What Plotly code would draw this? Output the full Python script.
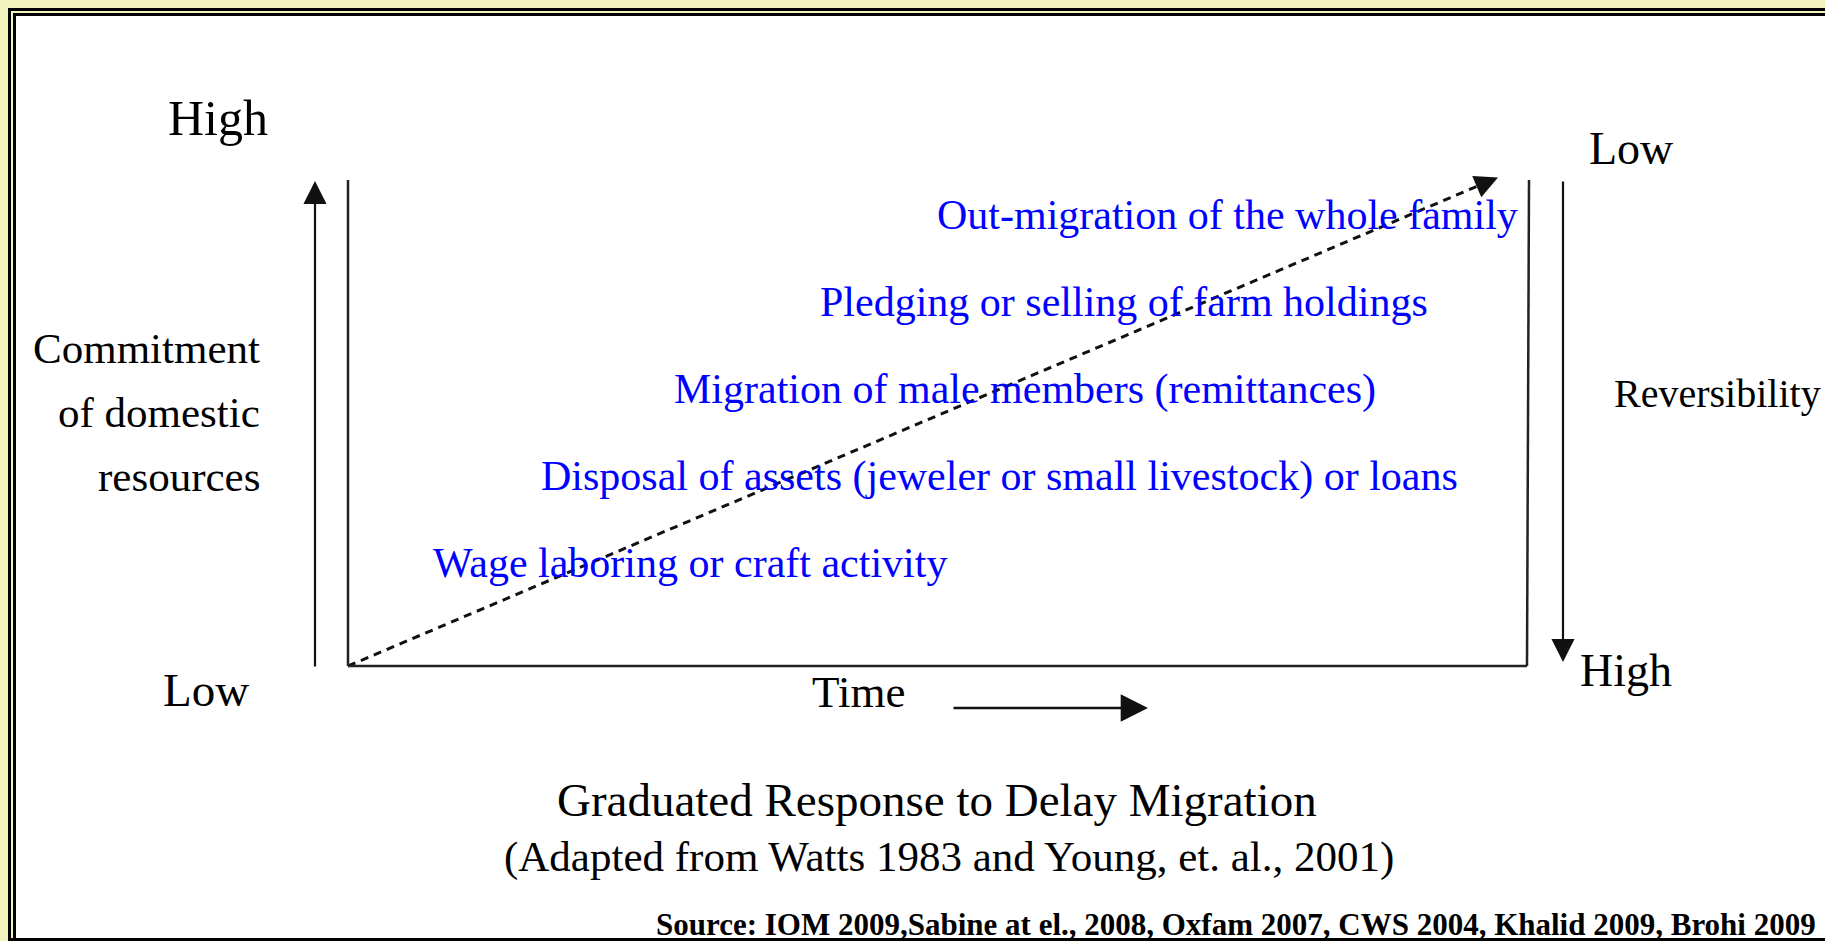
import plotly.graph_objects as go

# ---------------- data ----------------
stages = [
    "Wage laboring or craft activity",
    "Disposal of assets (jeweler or small livestock) or loans",
    "Migration of male members (remittances)",
    "Pledging or selling of farm holdings",
    "Out-migration of the whole family",
]
stage_level = [1, 2, 3, 4, 5]
left_axis_top = "High"
left_axis_bottom = "Low"
left_axis_title = ["Commitment", "of domestic", "resources"]
right_axis_top = "Low"
right_axis_bottom = "High"
right_axis_title = "Reversibility"
x_axis_title = "Time"
title = "Graduated Response to Delay Migration"
subtitle = "(Adapted from Watts 1983 and Young, et. al., 2001)"
source = "Source: IOM 2009,Sabine at el., 2008, Oxfam 2007, CWS 2004, Khalid 2009, Brohi 2009"

# ---------------- layout geometry (pixel space) ----------------
W, H = 1825, 941
BOX_L, BOX_R, BOX_T, BOX_B = 348, 1529, 180, 666
stage_x_left = [431, 539, 672, 818, 935]
stage_y0, stage_dy = 647, 87

SERIF = "Liberation Serif, Times New Roman, serif"
BLUE = "#0000FF"
INK = "#111111"

fig = go.Figure()

# dashed diagonal trend (time vs commitment)
fig.add_trace(go.Scatter(
    x=[BOX_L, 1486], y=[BOX_B, 182.5], mode="lines",
    line=dict(color=INK, width=3, dash="8px,6px"),
    hoverinfo="skip", showlegend=False))

shapes = []
# frame: white panel with double black border on a pale yellow page
shapes.append(dict(type="rect", xref="x", yref="y", x0=14.5, y0=14.5, x1=W + 20, y1=H + 20,
                   fillcolor="white", line=dict(color="black", width=3), layer="below"))
shapes.append(dict(type="rect", xref="x", yref="y", x0=9.5, y0=9.5, x1=W + 20, y1=H - 1.5,
                   line=dict(color="black", width=3), layer="below"))
# box lines
for (x0, y0, x1, y1) in [(BOX_L, BOX_T, BOX_L, BOX_B), (BOX_L, BOX_B, BOX_R - 2, BOX_B),
                         (BOX_R, BOX_T, BOX_R - 2, BOX_B)]:
    shapes.append(dict(type="line", xref="x", yref="y", x0=x0, y0=y0, x1=x1, y1=y1,
                       line=dict(color="#222222", width=2.5)))

annotations = []


def arrow(xt, yt, xs, ys, width=2.2):
    annotations.append(dict(x=xt, y=yt, ax=xs, ay=ys, xref="x", yref="y", axref="x", ayref="y",
                            text="", showarrow=True, arrowhead=2, arrowsize=2.1,
                            arrowwidth=width, arrowcolor=INK))


arrow(315, 181, 315, 668)          # commitment axis (up)
arrow(1563, 662, 1563, 180)        # reversibility axis (down)
arrow(1148, 708, 952, 708, 2.6)    # time arrow
arrow(1498, 177.5, 1478, 186)      # head of dashed diagonal


def label(text, x, y, size, xanchor="center", color="black", bold=False):
    annotations.append(dict(x=x, y=y, xref="x", yref="y", text=(f"<b>{text}</b>" if bold else text),
                            showarrow=False, xanchor=xanchor, yanchor="middle",
                            font=dict(family=SERIF, size=size, color=color)))


label(left_axis_top, 218, 118, 50)
label(left_axis_bottom, 206, 690, 47)
for i, t in enumerate(left_axis_title):
    label(t, 262, 348 + i * 64, 43, xanchor="right")
label(right_axis_top, 1631, 148, 46)
label(right_axis_bottom, 1626, 670, 46)
label(right_axis_title, 1612, 393, 40, xanchor="left")
label(x_axis_title, 858, 692, 45)

for t, lvl, xl in zip(stages, stage_level, stage_x_left):
    label(t, xl, stage_y0 - lvl * stage_dy + 3, 42, xanchor="left", color=BLUE)

label(title, 937, 800, 47)
label(subtitle, 949, 857, 43)
label(source, 1818, 924, 31, xanchor="right", bold=True)

fig.update_layout(
    width=W, height=H, margin=dict(l=0, r=0, t=0, b=0, pad=0),
    paper_bgcolor="#F2F2BF", plot_bgcolor="rgba(0,0,0,0)",
    xaxis=dict(range=[0, W], visible=False, fixedrange=True),
    yaxis=dict(range=[H, 0], visible=False, fixedrange=True),
    shapes=shapes, annotations=annotations, showlegend=False,
)

fig.write_html("out.html", config={"displayModeBar": False},
               post_script="document.body.style.margin='0';document.body.style.overflow='hidden';")
